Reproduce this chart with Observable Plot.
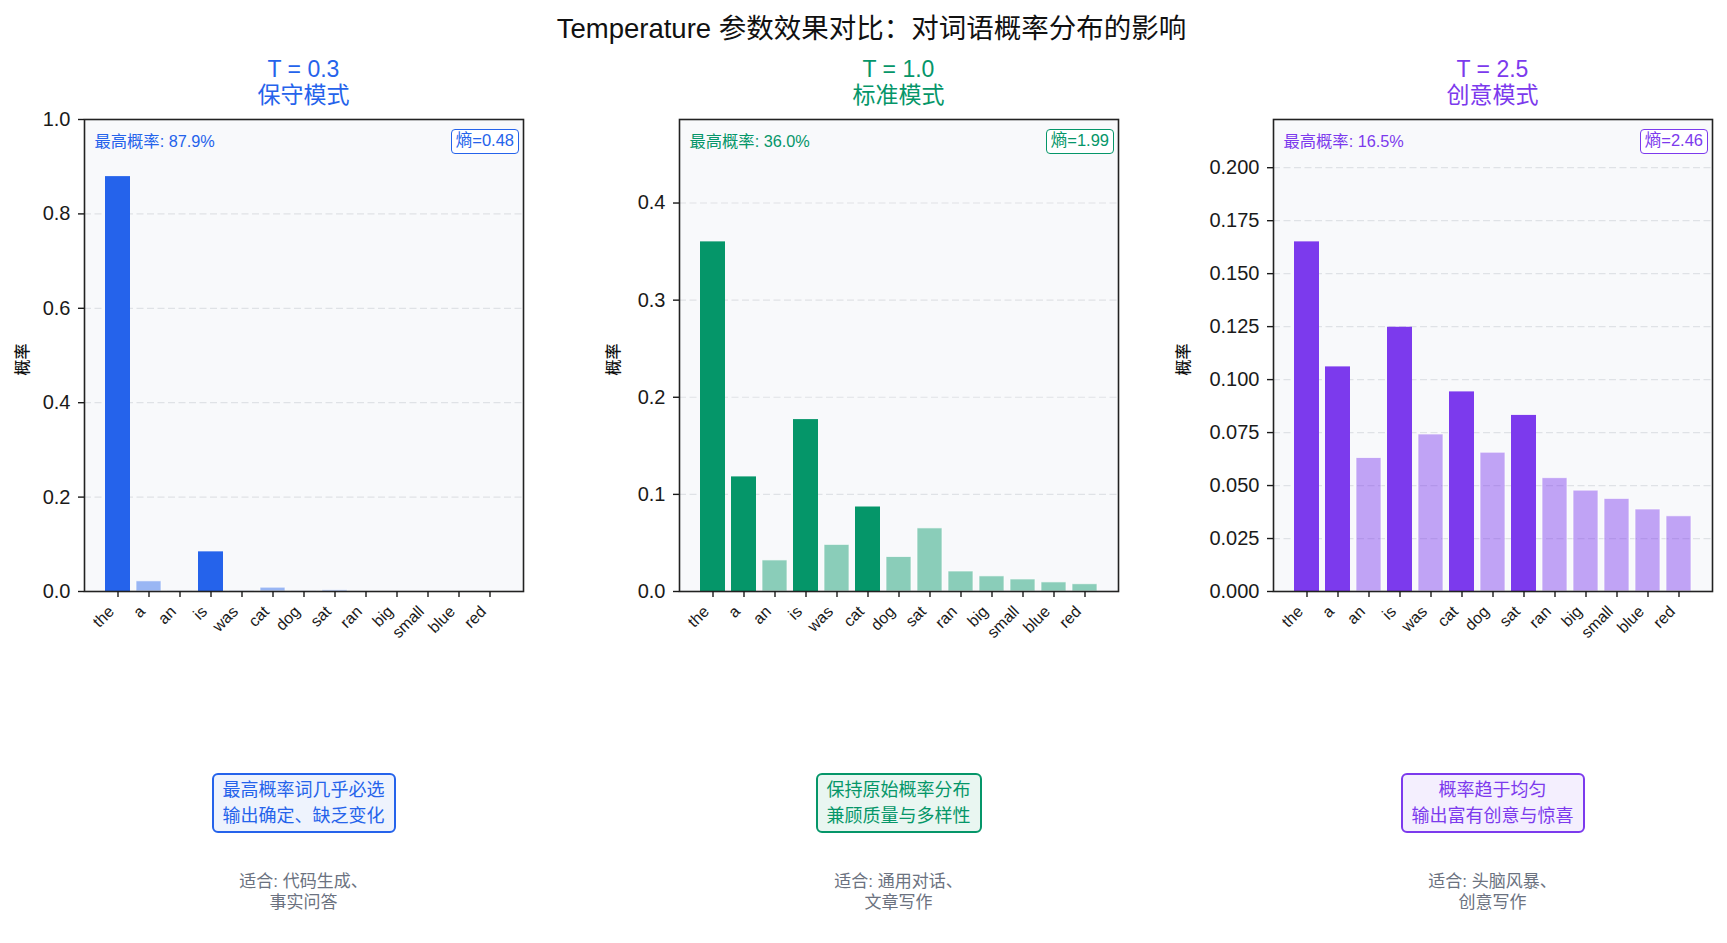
<!DOCTYPE html>
<html>
<head>
<meta charset="utf-8">
<script src="https://cdn.jsdelivr.net/npm/d3@7"></script>
<script src="https://cdn.jsdelivr.net/npm/@observablehq/plot@0.6"></script>
<style>
  html, body { margin: 0; padding: 0; background: #ffffff; }
  body { width: 1727px; height: 943px; position: relative; overflow: hidden;
         font-family: "Liberation Sans", "Noto Sans CJK SC", sans-serif; color: #111; }
  .abs { position: absolute; }
  .title { top: 13px; left: 8px; width: 1727px; text-align: center; font-size: 27.5px; line-height: 32px; }
  .ptitle { text-align: center; font-size: 23px; line-height: 26px; }
  .ent { box-sizing: border-box; height: 25px; line-height: 21px; border: 1.6px solid; border-radius: 4px;
         padding: 0 4px; font-size: 16.5px; background: #ffffff; white-space: nowrap; }
  .cbox { box-sizing: border-box; border: 2px solid; border-radius: 6px; padding: 2px 9px;
          font-size: 18px; line-height: 26px; text-align: center; transform: translateX(-50%); white-space: nowrap; }
  .use { font-size: 17px; line-height: 21px; color: #6b7280; text-align: center; transform: translateX(-50%); white-space: nowrap; }
</style>
</head>
<body>
<div class="abs title">Temperature 参数效果对比：对词语概率分布的影响</div>
<script>
// ---- data ----
const words = ["the", "a", "an", "is", "was", "cat", "dog", "sat", "ran", "big", "small", "blue", "red"];
const probsT03 = [0.879, 0.0216, 0.0003, 0.084, 0.0011, 0.0081, 0.0004, 0.0029, 0.0001, 0.00005, 0.00003, 0.00002, 0.00001];
const probsT10 = [0.360, 0.118, 0.032, 0.177, 0.048, 0.087, 0.0355, 0.065, 0.0206, 0.0156, 0.0124, 0.0094, 0.0075];
const probsT25 = [0.165, 0.106, 0.063, 0.1247, 0.0741, 0.0942, 0.0655, 0.0831, 0.0535, 0.0476, 0.0437, 0.0387, 0.0355];
const temperatures = ["0.3", "1.0", "2.5"];
const modeNames = ["保守模式", "标准模式", "创意模式"];
const entropies = ["0.48", "1.99", "2.46"];
const yTicksT03 = [0.0, 0.2, 0.4, 0.6, 0.8, 1.0];
const yTicksT10 = [0.0, 0.1, 0.2, 0.3, 0.4];
const yTicksT25 = [0.000, 0.025, 0.050, 0.075, 0.100, 0.125, 0.150, 0.175, 0.200];
const tickFormats = [".1f", ".1f", ".3f"];
const boxLines = [
  ["最高概率词几乎必选", "输出确定、缺乏变化"],
  ["保持原始概率分布", "兼顾质量与多样性"],
  ["概率趋于均匀", "输出富有创意与惊喜"]
];
const useCases = [
  ["适合: 代码生成、", "事实问答"],
  ["适合: 通用对话、", "文章写作"],
  ["适合: 头脑风暴、", "创意写作"]
];
const yLabel = "概率";

// ---- styling / layout ----
const colors = ["#2563eb", "#059669", "#7c3aed"];
const tints = ["#eef3fd", "#e9f6f1", "#f4effe"];
const allProbs = [probsT03, probsT10, probsT25];
const allTicks = [yTicksT03, yTicksT10, yTicksT25];
const frameLefts = [84, 679, 1273];
const frameW = 439, frameTop = 119, frameH = 472;
const ML = 100, MR = 10, MT = 19, MB = 70;
const svgTop = frameTop - MT;
const yLabelDx = [-62, -66, -90];
const threshold = 1 / words.length;
const font = '"Liberation Sans", "Noto Sans CJK SC", sans-serif';

for (let i = 0; i < 3; i++) {
  const probs = allProbs[i];
  const data = words.map((w, k) => ({word: w, p: probs[k]}));
  const maxP = d3.max(probs);
  const yMax = Math.min(1, maxP * 1.35);
  const color = colors[i];
  const fl = frameLefts[i];
  const cx = fl + frameW / 2;

  const chart = Plot.plot({
    width: frameW + ML + MR,
    height: frameH + MT + MB,
    marginLeft: ML, marginRight: MR, marginTop: MT, marginBottom: MB,
    style: {fontFamily: font, background: "transparent", color: "#1a1a1a", overflow: "visible"},
    x: {type: "band", domain: words, paddingInner: 0.2, paddingOuter: 0.64},
    y: {domain: [0, yMax]},
    marks: [
      Plot.frame({fill: "#f8f9fb", stroke: "none"}),
      Plot.gridY(allTicks[i], {stroke: "#dfe2e6", strokeOpacity: 1, strokeWidth: 1.2, strokeDasharray: "7,3.5"}),
      Plot.barY(data, {
        x: "word", y: "p",
        fill: color,
        fillOpacity: d => d.p > threshold ? 1 : 0.45,
        stroke: d => d.p > threshold ? "none" : "#ffffff",
        strokeOpacity: 0.7, strokeWidth: 1
      }),
      Plot.frame({stroke: "#222", strokeWidth: 1.6, fill: "none"}),
      Plot.axisY(allTicks[i], {tickSize: 6, tickPadding: 8, tickFormat: d3.format(tickFormats[i]), fontSize: 20, label: null, strokeWidth: 1.4}),
      Plot.axisX({tickSize: 6, tickFormat: () => "", label: null, strokeWidth: 1.4}),
      Plot.text(words, {x: d => d, frameAnchor: "bottom", rotate: -45, textAnchor: "end", lineAnchor: "top", dy: 13, dx: -11, fontSize: 16, fill: "#1a1a1a"}),
      Plot.text([yLabel], {frameAnchor: "left", textAnchor: "middle", lineAnchor: "middle", dx: yLabelDx[i], dy: 4, rotate: -90, fontSize: 16, fontWeight: 500, fill: "#111"}),
      Plot.text([`最高概率: ${(maxP * 100).toFixed(1)}%`], {frameAnchor: "top-left", textAnchor: "start", lineAnchor: "middle", dx: 10, dy: 22, fontSize: 16.3, fill: color})
    ]
  });
  chart.classList.add("abs");
  chart.style.left = (fl - ML) + "px";
  chart.style.top = svgTop + "px";
  document.body.appendChild(chart);

  // panel title
  const t = document.createElement("div");
  t.className = "abs ptitle";
  t.style.left = fl + "px"; t.style.width = frameW + "px"; t.style.top = "56px";
  t.style.color = color;
  t.innerHTML = `T = ${temperatures[i]}<br>${modeNames[i]}`;
  document.body.appendChild(t);

  // entropy box
  const e = document.createElement("div");
  e.className = "abs ent";
  e.style.right = (1727 - (fl + frameW) + 4) + "px";
  e.style.top = (frameTop + 10) + "px";
  e.style.color = color; e.style.borderColor = color;
  e.textContent = `熵=${entropies[i]}`;
  document.body.appendChild(e);

  // description box
  const b = document.createElement("div");
  b.className = "abs cbox";
  b.style.left = cx + "px"; b.style.top = "773px";
  b.style.color = color; b.style.borderColor = color; b.style.background = tints[i];
  b.innerHTML = boxLines[i].join("<br>");
  document.body.appendChild(b);

  // use case text
  const u = document.createElement("div");
  u.className = "abs use";
  u.style.left = cx + "px"; u.style.top = "871px";
  u.innerHTML = useCases[i].join("<br>");
  document.body.appendChild(u);
}
</script>
</body>
</html>
